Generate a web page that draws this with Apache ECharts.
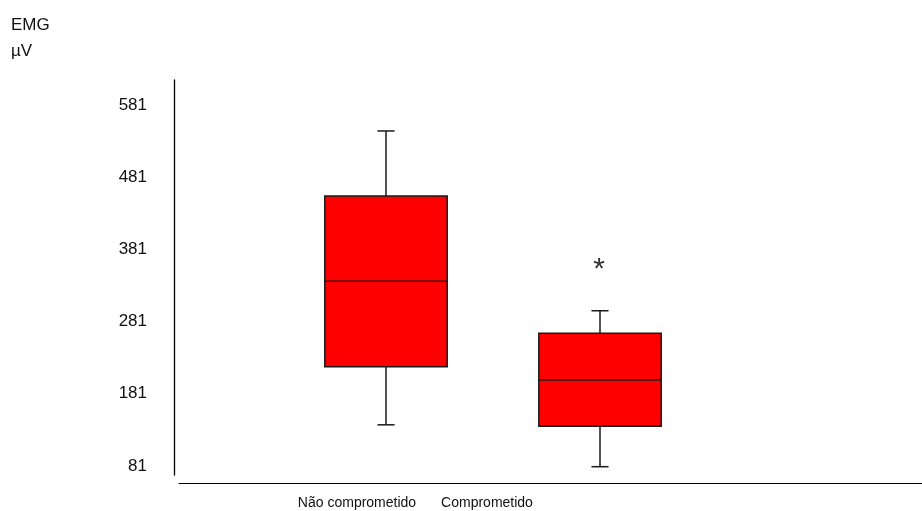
<!DOCTYPE html>
<html><head><meta charset="utf-8">
<script src="https://cdn.jsdelivr.net/npm/echarts@6/dist/echarts.min.js"></script>
<style>html,body{margin:0;padding:0;background:#fff}#c{width:922px;height:511px}</style>
</head><body><div id="c"></div>
<script>
// ---- data ----
const categories = ['Não comprometido', 'Comprometido'];
const whiskerLow  = [138, 80];
const q1          = [218.5, 136];
const median      = [337, 200];
const q3          = [455, 265];
const whiskerHigh = [545, 296];
const outliers    = [[1, 362]];
const yTicks      = [81, 181, 281, 381, 481, 581];
const yTitle      = ['EMG', 'µV'];
const labelCenters = [357, 487]; // x label positions as in the source layout

const yMin = 68.5, yMax = 615.6;
const boxData = categories.map((c, i) => [i, whiskerLow[i], q1[i], median[i], q3[i], whiskerHigh[i]]);

const chart = echarts.init(document.getElementById('c'), null, {renderer: 'canvas'});
const stroke = '#1a1a1a';
const option = {
  animation: false,
  backgroundColor: '#fff',
  grid: [
    {left: 179, right: 0, top: 80, bottom: 36},
    {left: 279, right: 215, top: 80, bottom: 36}
  ],
  xAxis: [
    {gridIndex: 0, type: 'category', data: categories, offset: 8,
     axisLine: {lineStyle: {color: '#000', width: 1.2}}, axisTick: {show: false}, axisLabel: {show: false}},
    {gridIndex: 1, type: 'category', data: categories, show: false}
  ],
  yAxis: [
    {gridIndex: 0, type: 'value', min: yMin, max: yMax, offset: 5,
     axisLine: {show: true, lineStyle: {color: '#000', width: 1.3}},
     axisTick: {show: false}, splitLine: {show: false},
     axisLabel: {customValues: yTicks, margin: 27, color: '#111',
                 fontFamily: 'Liberation Sans', fontSize: 17}},
    {gridIndex: 1, type: 'value', min: yMin, max: yMax, show: false}
  ],
  graphic: [
    {type: 'text', x: 11, y: 25, style: {text: yTitle[0], font: '17px "Liberation Sans"', fill: '#111', verticalAlign: 'middle'}},
    {type: 'text', x: 11, y: 51, style: {text: yTitle[1], font: '17px "Liberation Sans"', fill: '#111', verticalAlign: 'middle'}},
    ...categories.map((c, i) => ({type: 'text', x: labelCenters[i], y: 503,
      style: {text: c, font: '14px "Liberation Sans"', fill: '#111', align: 'center', verticalAlign: 'middle'}}))
  ],
  series: [
    {
      type: 'custom', xAxisIndex: 1, yAxisIndex: 1, data: boxData,
      renderItem(params, api) {
        const x = api.value(0);
        const band = api.size([1, 0])[0];
        const bw = band * 0.572, cw = band * 0.08;
        const lo = api.coord([x, api.value(1)]);
        const b1 = api.coord([x, api.value(2)]);
        const md = api.coord([x, api.value(3)]);
        const b3 = api.coord([x, api.value(4)]);
        const hi = api.coord([x, api.value(5)]);
        const cx = lo[0];
        const st = {stroke: stroke, lineWidth: 1.5};
        return {type: 'group', children: [
          {type: 'line', shape: {x1: cx, y1: b3[1], x2: cx, y2: hi[1]}, style: st},
          {type: 'line', shape: {x1: cx, y1: b1[1], x2: cx, y2: lo[1]}, style: st},
          {type: 'line', shape: {x1: cx - cw / 2, y1: hi[1], x2: cx + cw / 2, y2: hi[1]}, style: st},
          {type: 'line', shape: {x1: cx - cw / 2, y1: lo[1], x2: cx + cw / 2, y2: lo[1]}, style: st},
          {type: 'rect', shape: {x: cx - bw / 2, y: b3[1], width: bw, height: b1[1] - b3[1]},
           style: {fill: '#ff0000', stroke: stroke, lineWidth: 1.5}},
          {type: 'line', shape: {x1: cx - bw / 2, y1: md[1], x2: cx + bw / 2, y2: md[1]}, style: st}
        ]};
      }
    },
    {
      type: 'custom', xAxisIndex: 1, yAxisIndex: 1, data: outliers,
      renderItem(params, api) {
        const p = api.coord([api.value(0), api.value(1)]);
        return {type: 'text', x: p[0] - 1, y: p[1] + 7,
          style: {text: '*', font: '30px "Liberation Sans"', fill: '#333', align: 'center', verticalAlign: 'middle'}};
      }
    }
  ]
};
chart.setOption(option);
</script></body></html>
